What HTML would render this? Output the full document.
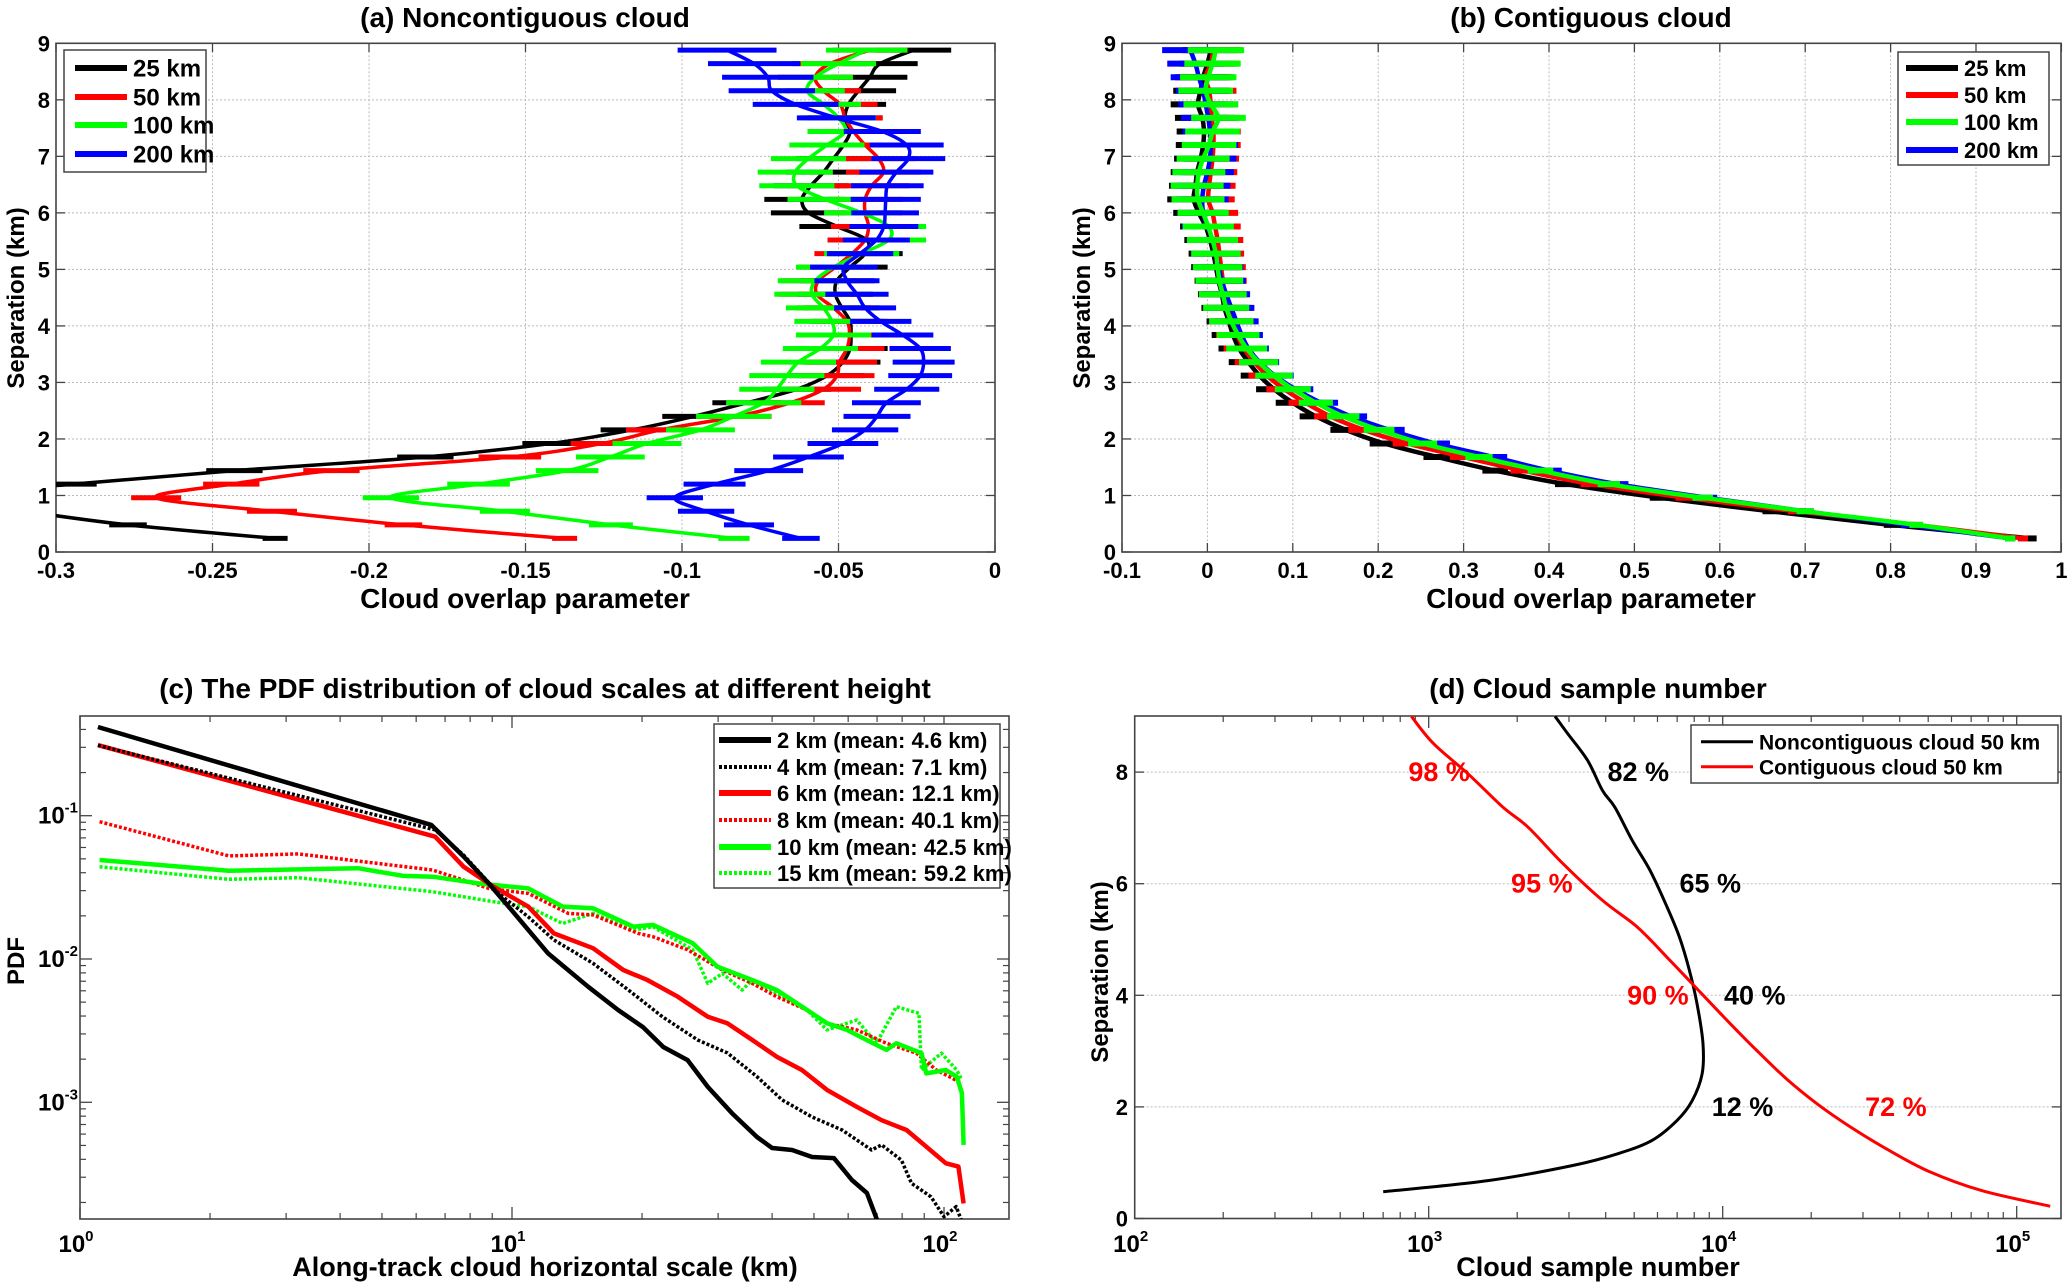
<!DOCTYPE html>
<html><head><meta charset="utf-8"><style>
html,body{margin:0;padding:0;background:#fff;}
svg{display:block;}
.t{font-family:"Liberation Sans Narrow","Liberation Sans",sans-serif;font-weight:bold;font-stretch:condensed;fill:#000;}
.w{font-family:"Liberation Sans",sans-serif;font-weight:bold;fill:#000;}
</style></head><body>
<svg id="chart" width="2067" height="1287" viewBox="0 0 2067 1287" xmlns="http://www.w3.org/2000/svg">
<defs>
<clipPath id="clipA"><rect x="56" y="43.3" width="939" height="508.7"/></clipPath>
<clipPath id="clipB"><rect x="1122" y="43.3" width="939" height="508.7"/></clipPath>
<clipPath id="clipC"><rect x="80" y="716" width="929" height="503"/></clipPath>
<clipPath id="clipD"><rect x="1134.7" y="716" width="926.3" height="502.5"/></clipPath>
</defs>
<text class="t" x="525" y="27" font-size="28" text-anchor="middle">(a) Noncontiguous cloud</text>
<text class="t" x="1591" y="27" font-size="28" text-anchor="middle">(b) Contiguous cloud</text>
<text class="t" x="545" y="698" font-size="28" text-anchor="middle">(c) The PDF distribution of cloud scales at different height</text>
<text class="t" x="1598" y="698" font-size="28" text-anchor="middle">(d) Cloud sample number</text>
<text class="t" x="525" y="608" font-size="28" text-anchor="middle">Cloud  overlap parameter</text>
<text class="t" x="1591" y="608" font-size="28" text-anchor="middle">Cloud overlap parameter</text>
<text class="t" x="545" y="1276" font-size="27" text-anchor="middle">Along-track cloud horizontal scale (km)</text>
<text class="t" x="1598" y="1276" font-size="27" text-anchor="middle">Cloud sample number</text>
<text class="w" transform="translate(24,298) rotate(-90)" font-size="24" text-anchor="middle">Separation (km)</text>
<text class="w" transform="translate(1090,298) rotate(-90)" font-size="24" text-anchor="middle">Separation (km)</text>
<text class="w" transform="translate(24,961) rotate(-90)" font-size="24" text-anchor="middle">PDF</text>
<text class="w" transform="translate(1108,972) rotate(-90)" font-size="24" text-anchor="middle">Separation (km)</text>
</svg>
<script>
// ---------- Panel (a) data ----------
const sepLevels=[0.24,0.48,0.72,0.96,1.2,1.44,1.68,1.92,2.16,2.4,2.64,2.88,3.12,3.36,3.6,3.84,4.08,4.32,4.56,4.8,5.04,5.28,5.52,5.76,6.0,6.24,6.48,6.72,6.96,7.2,7.44,7.68,7.92,8.16,8.4,8.64,8.88];
const aBlack=[-0.23,-0.277,-0.31,-0.34,-0.295,-0.243,-0.182,-0.142,-0.116,-0.0963,-0.0793,-0.0633,-0.0537,-0.0486,-0.0463,-0.046,-0.0463,-0.0489,-0.051,-0.0505,-0.0463,-0.0415,-0.041,-0.0505,-0.0596,-0.0617,-0.0588,-0.0548,-0.0516,-0.0484,-0.0463,-0.0479,-0.0468,-0.0436,-0.040,-0.0367,-0.026];
const aRed=[-0.1375,-0.189,-0.231,-0.268,-0.244,-0.212,-0.155,-0.1256,-0.1069,-0.0824,-0.0654,-0.0548,-0.0505,-0.0497,-0.0473,-0.0465,-0.0473,-0.0516,-0.0569,-0.0564,-0.051,-0.0457,-0.0415,-0.0404,-0.0415,-0.0415,-0.0394,-0.0356,-0.0372,-0.0415,-0.0452,-0.0479,-0.0495,-0.0548,-0.0574,-0.0527,-0.0399];
const aGreen=[-0.0834,-0.1227,-0.1566,-0.193,-0.165,-0.1367,-0.1229,-0.1112,-0.0941,-0.0835,-0.0739,-0.0697,-0.0665,-0.0628,-0.0558,-0.0516,-0.0521,-0.0548,-0.0585,-0.0574,-0.0516,-0.0426,-0.034,-0.034,-0.0426,-0.0543,-0.0633,-0.0638,-0.0596,-0.0537,-0.0479,-0.05,-0.0548,-0.06,-0.0574,-0.05,-0.041];
const aBlue=[-0.062,-0.0786,-0.0923,-0.1023,-0.0896,-0.0723,-0.0596,-0.0486,-0.0415,-0.0377,-0.0347,-0.0282,-0.0239,-0.0228,-0.0239,-0.0295,-0.0365,-0.0415,-0.0441,-0.0473,-0.0483,-0.0431,-0.0379,-0.0355,-0.0351,-0.0349,-0.0344,-0.0315,-0.0277,-0.0282,-0.036,-0.0507,-0.0637,-0.0713,-0.0726,-0.077,-0.0856];
const aErrBlack=[0.004,0.006,0.007,0.008,0.008,0.009,0.009,0.009,0.01,0.01,0.011,0.011,0.012,0.012,0.012,0.012,0.012,0.012,0.012,0.012,0.012,0.012,0.012,0.012,0.012,0.012,0.012,0.012,0.012,0.012,0.012,0.012,0.012,0.012,0.012,0.012,0.012];
const aErrRed=[0.004,0.006,0.008,0.008,0.009,0.009,0.01,0.01,0.011,0.011,0.011,0.012,0.012,0.012,0.012,0.012,0.012,0.012,0.012,0.012,0.012,0.012,0.012,0.012,0.012,0.012,0.012,0.012,0.012,0.012,0.012,0.012,0.012,0.012,0.012,0.012,0.012];
const aErrGreen=[0.005,0.007,0.008,0.009,0.01,0.01,0.011,0.011,0.011,0.012,0.012,0.012,0.012,0.012,0.012,0.012,0.012,0.012,0.012,0.012,0.012,0.012,0.012,0.012,0.012,0.012,0.012,0.012,0.012,0.012,0.012,0.012,0.012,0.012,0.012,0.012,0.013];
const aErrBlue=[0.006,0.008,0.009,0.009,0.0099,0.011,0.0113,0.0113,0.0106,0.0107,0.011,0.0104,0.0102,0.0099,0.0098,0.0098,0.0098,0.0099,0.0101,0.0104,0.0108,0.0106,0.0107,0.011,0.0108,0.0112,0.0116,0.0118,0.0118,0.0118,0.0123,0.0126,0.0137,0.0138,0.0146,0.0147,0.0158];
// ---------- Panel (b) data ----------
const bBlack=[0.965,0.80,0.66,0.53,0.42,0.337,0.269,0.207,0.162,0.127,0.100,0.078,0.061,0.048,0.037,0.030,0.025,0.020,0.017,0.013,0.010,0.007,0.003,-0.002,-0.010,-0.016,-0.014,-0.012,-0.008,-0.005,-0.004,-0.006,-0.011,-0.008,-0.005,0.0,0.004];
const bRed=[0.955,0.83,0.69,0.56,0.45,0.37,0.300,0.234,0.183,0.144,0.115,0.090,0.070,0.055,0.043,0.035,0.030,0.024,0.020,0.018,0.016,0.014,0.012,0.009,0.006,0.001,0.002,0.004,0.006,0.007,0.007,0.005,0.004,0.002,-0.002,0.004,0.007];
const bGreen=[0.94,0.83,0.70,0.58,0.47,0.39,0.318,0.252,0.201,0.159,0.127,0.100,0.078,0.060,0.046,0.036,0.028,0.022,0.018,0.014,0.012,0.010,0.006,0.001,-0.005,-0.011,-0.012,-0.010,-0.005,0.002,0.006,0.013,0.004,-0.002,0.001,0.006,0.010];
const bBlue=[0.94,0.82,0.70,0.585,0.48,0.40,0.335,0.267,0.213,0.168,0.133,0.103,0.079,0.061,0.048,0.040,0.034,0.028,0.022,0.017,0.013,0.010,0.006,0.0,-0.005,-0.006,-0.004,0.0,0.003,0.004,0.003,0.001,-0.002,-0.005,-0.010,-0.014,-0.020];
const bErr=[0.006,0.008,0.01,0.012,0.013,0.015,0.016,0.017,0.018,0.019,0.02,0.021,0.022,0.023,0.024,0.025,0.026,0.027,0.028,0.028,0.029,0.029,0.03,0.03,0.03,0.031,0.031,0.031,0.031,0.032,0.032,0.032,0.032,0.032,0.033,0.033,0.033];
// ---------- Panel (c) data ----------
const c2kmX=[1.1,6.5,7.73,8.83,9.82,12.1,15.0,17.6,20.1,22.4,25.5,28.4,32.3,36.9,40.0,44.5,49.5,55.6,61.2,66.3,70.0,71.1];
const c2kmY=[0.416,0.0863,0.0518,0.0337,0.0232,0.011,0.00641,0.00441,0.00335,0.00243,0.00197,0.00128,0.00084,0.000573,0.00048,0.000465,0.000415,0.000408,0.000287,0.000233,0.000151,0.00011];
const c4kmX=[1.1,6.64,7.73,9.31,10.9,12.5,15.4,18.6,22.3,26.9,31.5,36.9,42.2,49.5,58.1,68.0,71.7,79.7,84.1,93.3,100,106.7,109.6];
const c4kmY=[0.31,0.0796,0.053,0.0287,0.0197,0.0136,0.00933,0.00608,0.00395,0.00272,0.00221,0.00151,0.00104,0.00079,0.000641,0.000465,0.000504,0.000395,0.000272,0.000219,0.000159,0.000187,0.000151];
const c6kmX=[1.1,6.64,7.73,9.06,10.9,12.5,15.4,18.1,20.6,24.2,28.4,31.5,36.0,41.0,46.9,53.6,62.8,71.7,81.9,91.0,101,108,111];
const c6kmY=[0.311,0.0714,0.044,0.032,0.0232,0.0151,0.0119,0.00838,0.00713,0.00546,0.00395,0.00356,0.00272,0.00208,0.00168,0.00122,0.00093,0.00075,0.000641,0.00049,0.000375,0.000356,0.000197];
const c8kmX=[1.11,2.21,3.2,6.55,8.83,10.9,13.5,15.4,19.6,21.2,25.5,30.7,36.0,41.0,48.2,53.6,62.8,73.6,86.3,96,110];
const c8kmY=[0.0908,0.0524,0.0541,0.0418,0.0311,0.0287,0.0208,0.0203,0.0151,0.0143,0.0116,0.00838,0.00676,0.00546,0.00441,0.00356,0.0032,0.00258,0.0022,0.00168,0.00136];
const c10kmX=[1.11,2.21,4.4,5.6,6.55,8.37,10.9,13.1,15.4,19.1,21.2,26.2,29.9,36.0,41.0,48.2,53.6,59.6,66.2,73.6,77.6,88.7,91,101,107,110,111];
const c10kmY=[0.0491,0.0413,0.043,0.038,0.0375,0.0337,0.0311,0.0232,0.0226,0.0168,0.0173,0.0129,0.00884,0.00713,0.00608,0.00441,0.00356,0.0032,0.00272,0.00232,0.00258,0.0022,0.00159,0.00168,0.00151,0.00116,0.000504];
const c15kmX=[1.11,2.21,3.2,6.55,9.06,10.9,13.1,15.4,19.1,21.2,26.2,28.4,30.7,34.1,36.0,41,48.2,53.6,62.8,69.8,77.6,87.5,88.7,98.6,107,110];
const c15kmY=[0.044,0.036,0.0369,0.0295,0.0251,0.0232,0.0177,0.0208,0.0159,0.0168,0.0116,0.00676,0.00794,0.00608,0.00713,0.00575,0.00441,0.0032,0.00375,0.00258,0.00465,0.00418,0.00168,0.0022,0.00168,0.00143];
// ---------- Panel (d) data ----------
const dNonX=[700,1590,3090,4390,5750,7000,7870,8510,8570,8180,7710,7130,6470,5660,4930,4300,3900,3470,2970,2690];
const dNonY=[0.48,0.68,0.95,1.16,1.40,1.76,2.11,2.59,3.13,3.85,4.44,5.04,5.58,6.24,6.77,7.37,7.67,8.21,8.69,9.0];
const dConX=[130000,76000,50000,36000,27000,21000,16500,13060,10350,7870,6470,5130,3900,2860,2180,1790,1360,1038,873];
const dConY=[0.22,0.5,0.85,1.25,1.65,2.05,2.5,3.01,3.55,4.21,4.68,5.22,5.70,6.36,7.01,7.37,7.97,8.51,9.0];
const dNonLabels=["82 %","65 %","40 %","12 %"];
const dNonLabelX=[4055,7130,10100,9180];
const dNonLabelY=[8,6,4,2];
const dConLabels=["98 %","95 %","90 %","72 %"];
const dConLabelX=[853,1906,4730,30500];
const dConLabelY=[8,6,4,2];
// ---------- tick labels ----------
const aXTicks=[-0.3,-0.25,-0.2,-0.15,-0.1,-0.05,0];
const aXTickLabels=["-0.3","-0.25","-0.2","-0.15","-0.1","-0.05","0"];
const sepTicks=[0,1,2,3,4,5,6,7,8,9];
const bXTicks=[-0.1,0,0.1,0.2,0.3,0.4,0.5,0.6,0.7,0.8,0.9,1.0];
const bXTickLabels=["-0.1","0","0.1","0.2","0.3","0.4","0.5","0.6","0.7","0.8","0.9","1"];
const cXDecades=[0,1,2];
const cYDecades=[-1,-2,-3];
const dXDecades=[2,3,4,5];
const dYTicks=[0,2,4,6,8];

// ---------- axis functions ----------
const xA=v=>56+(v+0.3)/0.3*939;
const yS=s=>552-s*56.52;
const xB=v=>1122+(v+0.1)*854;
const xC=v=>80+Math.log10(v)*432;
const yC=p=>815.7-(Math.log10(p)+1)*143.3;
const xD=v=>1134.7+(Math.log10(v)-2)*294;
const yD=s=>1218.5-s*55.8;

const NS='http://www.w3.org/2000/svg';
const svg=document.getElementById('chart');
function mk(tag,attrs,parent){const el=document.createElementNS(NS,tag);for(const k in attrs)el.setAttribute(k,attrs[k]);(parent||svg).appendChild(el);return el;}
function group(name,clip){const g=mk('g',clip?{'clip-path':'url(#'+clip+')'}:{});


return g;}
function smoothPath(pts){let d='M'+pts[0][0].toFixed(1)+','+pts[0][1].toFixed(1);
for(let i=0;i<pts.length-1;i++){const p0=pts[Math.max(0,i-1)],p1=pts[i],p2=pts[i+1],p3=pts[Math.min(pts.length-1,i+2)];
const c1=[p1[0]+(p2[0]-p0[0])/6,p1[1]+(p2[1]-p0[1])/6],c2=[p2[0]-(p3[0]-p1[0])/6,p2[1]-(p3[1]-p1[1])/6];
d+=' C'+c1[0].toFixed(1)+','+c1[1].toFixed(1)+' '+c2[0].toFixed(1)+','+c2[1].toFixed(1)+' '+p2[0].toFixed(1)+','+p2[1].toFixed(1);}return d;}
function polyPath(pts){return 'M'+pts.map(p=>p[0].toFixed(1)+','+p[1].toFixed(1)).join(' L');}
function line(g,x1,y1,x2,y2,stroke,w,name,dash){const l=mk('line',{x1:x1,y1:y1,x2:x2,y2:y2,stroke:stroke,'stroke-width':w},g);if(dash)l.setAttribute('stroke-dasharray',dash);


return l;}
function txt(g,x,y,s,size,anchor,name,fill){const t=mk('text',{x:x,y:y,'font-size':size,'text-anchor':anchor||'middle',class:'t'},g);t.textContent=s;if(fill)t.style.fill=fill;


return t;}
function powLabel(g,x,y,exp,name){const t=mk('text',{x:x,y:y,'font-size':24,'text-anchor':'middle',class:'t'},g);


const a=mk('tspan',{},t);a.textContent='10';const b=mk('tspan',{dy:-11,'font-size':15},t);b.textContent=String(exp);return t;}
function frame(g,x,y,w,h){const r=mk('rect',{x:x,y:y,width:w,height:h,fill:'none',stroke:'#444','stroke-width':1.6},g);

}
const GRID='#bbb',GD='2 2';

// ---------- Panel A & B axes ----------
function linPanel(key,x0,w,xf,xt,xl){
const g=group('panel-'+key+'-axes');
xt.forEach((v,i)=>{const x=xf(v);
if(i>0&&i<xt.length-1)line(g,x,43.3,x,552,GRID,1,'x-gridline',GD);
line(g,x,552,x,543,'#444',1.3,'x-tick');line(g,x,43.3,x,52,'#444',1.3,'x-tick');
txt(g,x,578,xl[i],22,'middle','x-tick-label');});
sepTicks.forEach(s=>{const y=yS(s);
if(s>0&&s<9)line(g,x0,y,x0+w,y,GRID,1,'y-gridline',GD);
line(g,x0,y,x0+9,y,'#444',1.3,'y-tick');line(g,x0+w,y,x0+w-9,y,'#444',1.3,'y-tick');
txt(g,x0-6,y+8,String(s),22,'end','y-tick-label');});
frame(g,x0,43.3,w,508.7);}
linPanel('a',56,939,xA,aXTicks,aXTickLabels);
linPanel('b',1122,939,xB,bXTicks,bXTickLabels);

function errSeries(clip,xf,vals,errs,color,name,lw,bw){
const g=group(name,clip);
vals.forEach((v,i)=>{const y=yS(sepLevels[i]);
const b=mk('line',{x1:xf(v-errs[i]),y1:y,x2:xf(v+errs[i]),y2:y,stroke:color,'stroke-width':bw},g);

});
const pts=vals.map((v,i)=>[xf(v),yS(sepLevels[i])]);
const p=mk('path',{d:smoothPath(pts),fill:'none',stroke:color,'stroke-width':lw,'stroke-linejoin':'round'},g);

}
const K='#000',R='#f00',G='#0f0',B='#00f';
errSeries('clipA',xA,aBlack,aErrBlack,K,'a-series-25km',3.5,5);
errSeries('clipA',xA,aRed,aErrRed,R,'a-series-50km',3.5,5);
errSeries('clipA',xA,aGreen,aErrGreen,G,'a-series-100km',3.5,5);
errSeries('clipA',xA,aBlue,aErrBlue,B,'a-series-200km',3.5,5);
errSeries('clipB',xB,bBlack,bErr,K,'b-series-25km',4.5,6);
errSeries('clipB',xB,bRed,bErr,R,'b-series-50km',4.5,6);
errSeries('clipB',xB,bBlue,bErr,B,'b-series-200km',4.5,6);
errSeries('clipB',xB,bGreen,bErr,G,'b-series-100km',4.5,6);

function legend(name,x,y,w,h,entries,lx1,lx2,tx,ys,size,lw){
const g=group(name);
const r=mk('rect',{x:x,y:y,width:w,height:h,fill:'#fff',stroke:'#444','stroke-width':1.5},g);


entries.forEach((e,i)=>{line(g,lx1,ys[i],lx2,ys[i],e[1],e[3]||lw,'legend-swatch',e[2]);
txt(g,tx,ys[i]+size*0.36,e[0],size,'start','legend-entry');});}
const abEntries=[["25 km",K],["50 km",R],["100 km",G],["200 km",B]];
legend('legend-a',64,50,142,122,abEntries,75,127,133,[68,97,125,154],24,6);
legend('legend-b',1898,52,151,113,abEntries,1906,1958,1964,[68,95,122,150],22,6);

// ---------- Panel C ----------
(function(){const g=group('panel-c-axes');
const minor=[2,3,4,5,6,7,8,9];
cXDecades.forEach(d=>{const x=xC(Math.pow(10,d));
line(g,x,1219,x,1207,'#444',1.3,'x-tick');line(g,x,716,x,728,'#444',1.3,'x-tick');
powLabel(g,x-4,1252,d,'x-tick-label');
if(d<2)minor.forEach(m=>{const xm=xC(m*Math.pow(10,d));line(g,xm,1219,xm,1213,'#444',1.2,'x-minor-tick');line(g,xm,716,xm,722,'#444',1.2,'x-minor-tick');});});
[-4,-3,-2,-1].forEach(d=>{minor.forEach(m=>{const v=m*Math.pow(10,d);const y=yC(v);if(y>716&&y<1219){line(g,80,y,86,y,'#444',1.2,'y-minor-tick');line(g,1009,y,1003,y,'#444',1.2,'y-minor-tick');}});});
cYDecades.forEach(d=>{const y=yC(Math.pow(10,d));line(g,80,y,92,y,'#444',1.3,'y-tick');line(g,1009,y,997,y,'#444',1.3,'y-tick');
powLabel(g,58,y+8,d,'y-tick-label');});
frame(g,80,716,929,503);})();
function logSeries(clip,xf,yf,xs,ys,color,w,dash,name){const g=group(name,clip);
const p=mk('path',{d:polyPath(xs.map((v,i)=>[xf(v),yf(ys[i])])),fill:'none',stroke:color,'stroke-width':w,'stroke-linejoin':'round'},g);
if(dash)p.setAttribute('stroke-dasharray',dash);

}
logSeries('clipC',xC,yC,c15kmX,c15kmY,G,3.5,'3 2','c-series-15km');
logSeries('clipC',xC,yC,c8kmX,c8kmY,R,3.5,'3 2','c-series-8km');
logSeries('clipC',xC,yC,c10kmX,c10kmY,G,4.5,null,'c-series-10km');
logSeries('clipC',xC,yC,c6kmX,c6kmY,R,4.5,null,'c-series-6km');
logSeries('clipC',xC,yC,c4kmX,c4kmY,K,3.5,'3 2','c-series-4km');
logSeries('clipC',xC,yC,c2kmX,c2kmY,K,4.5,null,'c-series-2km');
legend('legend-c',714,724,286,164,[["2 km (mean: 4.6 km)",K,null,6],["4 km (mean: 7.1 km)",K,'3 2',4],["6 km (mean: 12.1 km)",R,null,6],["8 km (mean: 40.1 km)",R,'3 2',4],["10 km (mean: 42.5 km)",G,null,6],["15 km (mean: 59.2 km)",G,'3 2',4]],719,771,777,[740,767,793,820,847,873],22,6);

// ---------- Panel D ----------
(function(){const g=group('panel-d-axes');
const minor=[2,3,4,5,6,7,8,9];
dXDecades.forEach(d=>{const x=xD(Math.pow(10,d));
line(g,x,1218.5,x,1206,'#444',1.3,'x-tick');line(g,x,716,x,728,'#444',1.3,'x-tick');
powLabel(g,x-4,1252,d,'x-tick-label');
minor.forEach(m=>{const xm=xD(m*Math.pow(10,d));if(xm<2061){line(g,xm,1218.5,xm,1212,'#444',1.2,'x-minor-tick');line(g,xm,716,xm,722,'#444',1.2,'x-minor-tick');}});});
dYTicks.forEach(s=>{const y=yD(s);if(s>0)line(g,1134.7,y,2061,y,GRID,1,'y-gridline',GD);
line(g,1134.7,y,1144,y,'#444',1.3,'y-tick');line(g,2061,y,2052,y,'#444',1.3,'y-tick');
txt(g,1128,y+8,String(s),22,'end','y-tick-label');});
frame(g,1134.7,716,926.3,502.5);})();
function dSeries(xs,ys,color,name){const g=group(name,'clipD');
const p=mk('path',{d:smoothPath(xs.map((v,i)=>[xD(v),yD(ys[i])])),fill:'none',stroke:color,'stroke-width':3,'stroke-linejoin':'round'},g);

}
dSeries(dNonX,dNonY,K,'d-series-noncontiguous');
dSeries(dConX,dConY,R,'d-series-contiguous');
(function(){const g=group('d-annotations');
dNonLabels.forEach((s,i)=>txt(g,xD(dNonLabelX[i]),yD(dNonLabelY[i])+9,s,27,'start','percent-label',K));
dConLabels.forEach((s,i)=>txt(g,xD(dConLabelX[i]),yD(dConLabelY[i])+9,s,27,'start','percent-label',R));})();
legend('legend-d',1691,725,367,58,[["Noncontiguous cloud  50 km",K,null,3],["Contiguous cloud  50 km",R,null,3]],1701,1753,1759,[741.7,766.7],21,3);
</script>
</body></html>
